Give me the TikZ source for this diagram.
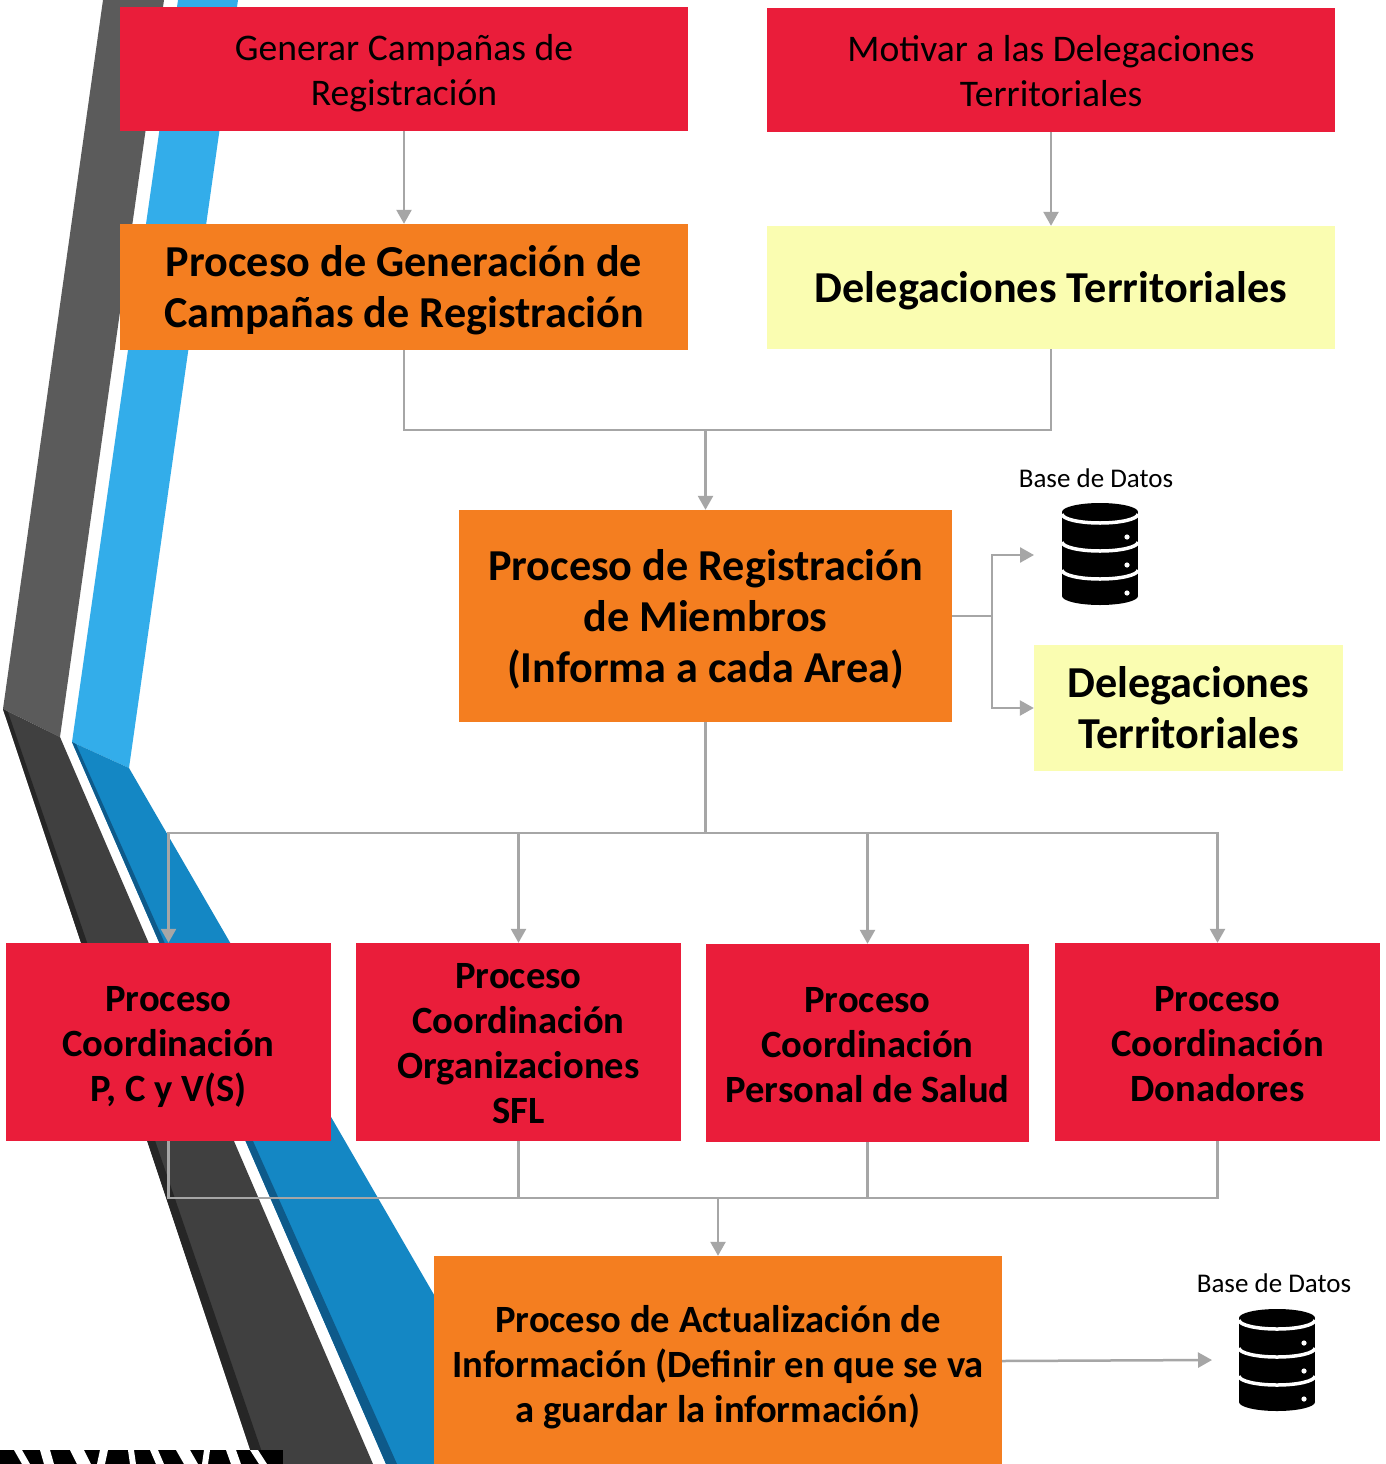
\documentclass[tikz,border=0pt]{standalone}
\usepackage{fontspec}
\setmainfont{Carlito}
\usetikzlibrary{arrows.meta}
\definecolor{boxred}{HTML}{EA1D3A}
\definecolor{boxorange}{HTML}{F47E20}
\definecolor{boxyellow}{HTML}{FAFDB1}
\definecolor{linegray}{HTML}{A6A6A6}
\definecolor{graytop}{HTML}{5B5B5B}
\definecolor{graylow}{HTML}{404040}
\definecolor{graystrip}{HTML}{262626}
\definecolor{bluetop}{HTML}{33ADEA}
\definecolor{bluelow}{HTML}{1487C4}
\definecolor{bluestrip}{HTML}{0E5A8A}
\newcommand\fsreg{\fontsize{37.6}{45}\selectfont}
\newcommand\fsbig{\fontsize{44.2}{51}\selectfont\bfseries}
\newcommand\fsmid{\fontsize{38.6}{45}\selectfont\bfseries}
\newcommand\fslab{\fontsize{27}{30}\selectfont}
\newcommand\mytopstrut{\rule{0pt}{\dimexpr0.7\baselineskip+10pt\relax}}
\newcommand\mybotstrut{\rule[-0.3\baselineskip]{0pt}{0.3\baselineskip}}
\tikzset{
  dbicon/.pic={
    \fill[black] (38,9) ellipse [x radius=38pt, y radius=9pt];
    \fill[black] (0,9) rectangle (76,93);
    \fill[black] (38,93) ellipse [x radius=38pt, y radius=9pt];
    \foreach \yy in {11,39,67}{
      \draw[white, line width=3.5pt] (0,\yy) arc [start angle=180, end angle=360, x radius=38pt, y radius=9pt];
    }
    \foreach \yy in {34,62,90}{
      \fill[white] (65,\yy) circle [radius=2.6pt];
    }
  }
}
\begin{document}
\begin{tikzpicture}[x=1pt,y=-1pt,
  ln/.style={draw=linegray, line width=2.5pt},
  arr/.style={ln, -{Triangle[width=15pt,length=14pt]}},
  box/.style={inner sep=0pt, align=center, text=black},
  redbox/.style={box, fill=boxred},
  orangebox/.style={box, fill=boxorange},
  yellowbox/.style={box, fill=boxyellow}]
\useasboundingbox (0,0) rectangle (1385,1464);
\fill[white] (0,0) rectangle (1385,1464);
% decorative bands
\fill[graytop] (103,0) -- (164,0) -- (60,737) -- (3,709) -- cycle;
\fill[bluetop] (178,0) -- (238,0) -- (129,768) -- (72,742) -- cycle;
\fill[graylow] (3,709) -- (60,737) -- (373,1464) -- (255,1464) -- cycle;
\fill[graystrip] (3,709) -- (8,712) -- (266,1464) -- (255,1464) -- cycle;
\fill[bluelow] (72,742) -- (129,768) -- (532,1464) -- (386,1464) -- cycle;
\fill[bluestrip] (72,742) -- (76,744) -- (397,1464) -- (386,1464) -- cycle;
% zebra strip
\fill[black] (0,1450) rectangle (283,1464);
\foreach \a/\b/\s in {14/22/8, 40/50/4, 70/84/7, 100/108/-3, 128/134/2, 150/158/6, 176/190/8, 204/210/-2, 226/236/5, 250/258/9}{
  \fill[white] (\a,1450) -- (\b,1450) -- (\b+\s,1464) -- (\a+\s,1464) -- cycle;
}
% boxes
\node[redbox, font=\fsreg, minimum width=568pt, minimum height=124pt] (g1) at (404,69)
  {\mytopstrut Generar Campañas de\\Registración\mybotstrut};
\node[redbox, font=\fsreg, minimum width=568pt, minimum height=124pt] (m1) at (1051,70)
  {\mytopstrut Motivar a las Delegaciones\\Territoriales\mybotstrut};
\node[orangebox, font=\fsbig, minimum width=568pt, minimum height=126pt] (p1) at (404,287)
  {\mytopstrut Proceso de Generación de\\Campañas de Registración\mybotstrut};
\node[yellowbox, font=\fsbig, minimum width=568pt, minimum height=123pt] (d1) at (1051,287.5)
  {\mytopstrut Delegaciones Territoriales\mybotstrut};
\node[orangebox, font=\fsbig, minimum width=493pt, minimum height=212pt] (r1) at (705.5,616)
  {\mytopstrut Proceso de Registración\\de Miembros\\(Informa a cada Area)\mybotstrut};
\node[yellowbox, font=\fsbig, minimum width=309pt, minimum height=126pt] (d2) at (1188.5,708)
  {\mytopstrut Delegaciones\\Territoriales\mybotstrut};
\node[redbox, font=\fsmid, minimum width=325pt, minimum height=198pt] (c1) at (168.5,1042)
  {\mytopstrut Proceso\\Coordinación\\P, C y V(S)\mybotstrut};
\node[redbox, font=\fsmid, minimum width=325pt, minimum height=198pt] (c2) at (518.5,1042)
  {\mytopstrut Proceso\\Coordinación\\Organizaciones\\SFL\mybotstrut};
\node[redbox, font=\fsmid, minimum width=323pt, minimum height=198pt] (c3) at (867.5,1043)
  {\mytopstrut Proceso\\Coordinación\\Personal de Salud\mybotstrut};
\node[redbox, font=\fsmid, minimum width=325pt, minimum height=198pt] (c4) at (1217.5,1042)
  {\mytopstrut Proceso\\Coordinación\\Donadores\mybotstrut};
\node[orangebox, font=\fsmid, minimum width=568pt, minimum height=214pt] (u) at (718,1363)
  {\mytopstrut Proceso de Actualización de\\Información (Definir en que se va\\a guardar la información)\mybotstrut};
% database icons and labels
\pic at (1062,503) {dbicon};
\pic at (1239,1309) {dbicon};
\node[box, font=\fslab] (lb1) at (1096,478) {Base de Datos};
\node[box, font=\fslab] (lb2) at (1274,1283) {Base de Datos};
% connectors
\coordinate (j1) at (705.5,430);
\coordinate (j2) at (992,616);
\coordinate (a1) at (1034,555);
\coordinate (j3) at (705.5,833);
\coordinate (j4) at (718,1198);
\coordinate (a2) at (1212,1360);
\coordinate (uo) at (1002,1361);
\draw[arr] (g1.south) -- (p1.north);
\draw[arr] (m1.south) -- (d1.north);
\draw[ln] (p1.south) |- (j1);
\draw[ln] (d1.south) |- (j1);
\draw[arr] (j1) -- (r1.north);
\draw[ln] (r1.east) -- (j2);
\draw[arr] (j2) |- (a1);
\draw[arr] (j2) |- (d2.west);
\draw[ln] (r1.south) -- (j3);
\foreach \c in {c1,c2,c3,c4}{
  \draw[arr] (j3) -| (\c.north);
  \draw[ln] (\c.south) |- (j4);
}
\draw[arr] (j4) -- (u.north);
\draw[arr] (uo) -- (a2);
\end{tikzpicture}
\end{document}
